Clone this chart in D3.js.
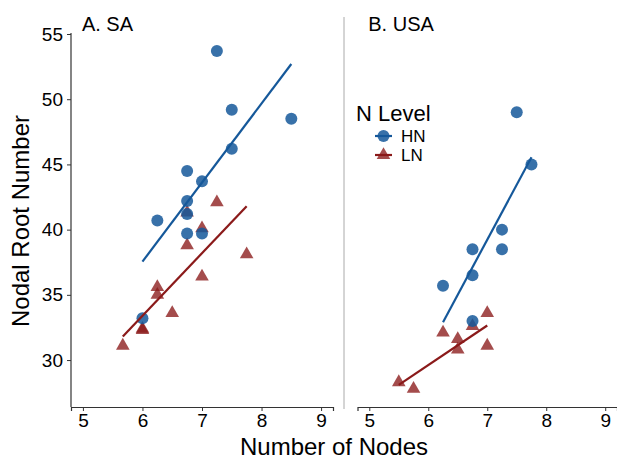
<!DOCTYPE html>
<html>
<head>
<meta charset="utf-8">
<script src="https://cdn.jsdelivr.net/npm/d3@7"></script>
<style>
  body { margin: 0; background: #fff; }
  text { font-family: "Liberation Sans", Arial, sans-serif; fill: #000; }
</style>
</head>
<body>
<div id="chart"></div>
<script>
// panels
const panels = ["A. SA", "B. USA"];

// A. SA - high N (circles)
const saHnNodes = [7.25, 7.5, 8.5, 7.5, 6.75, 7.0, 6.75, 6.25, 6.75, 6.75, 7.0, 6.0];
const saHnRoots = [53.7, 49.2, 48.5, 46.2, 44.5, 43.7, 42.2, 40.7, 41.2, 39.7, 39.7, 33.2];
// A. SA - low N (triangles)
const saLnNodes = [7.25, 7.0, 6.75, 6.75, 7.75, 7.0, 6.25, 6.25, 6.5, 6.0, 6.0, 5.67];
const saLnRoots = [42.1, 40.1, 41.3, 38.8, 38.1, 36.4, 35.6, 35.0, 33.6, 32.3, 32.4, 31.1];

// B. USA - high N
const usHnNodes = [7.5, 7.75, 7.25, 7.25, 6.75, 6.75, 6.25, 6.75];
const usHnRoots = [49.0, 45.0, 40.0, 38.5, 38.5, 36.5, 35.7, 33.0];
// B. USA - low N
const usLnNodes = [7.0, 6.75, 6.25, 6.5, 6.5, 7.0, 5.5, 5.75];
const usLnRoots = [33.6, 32.6, 32.1, 31.6, 30.8, 31.1, 28.3, 27.8];

// fitted lines, ends [x1, x2], [y1, y2]
const saHnFitX = [6.0, 8.5],  saHnFitY = [37.55, 52.7];
const saLnFitX = [5.67, 7.75], saLnFitY = [31.8, 41.8];
const usHnFitX = [6.25, 7.75], usHnFitY = [32.9, 45.55];
const usLnFitX = [5.5, 7.0],  usLnFitY = [28.1, 32.65];

const xTicks = [5, 6, 7, 8, 9];
const yTicks = [30, 35, 40, 45, 50, 55];
const levels = ["HN", "LN"];

const blue = "#15589a", red = "#8b1a1a";

const W = 617, H = 459;
const svg = d3.select("#chart").append("svg")
    .attr("width", W)
    .attr("height", H);

const y = d3.scaleLinear().domain([26.4, 55]).range([407, 34]);
const xA = d3.scaleLinear().domain([4.8, 9.2]).range([71, 333]);
const xB = d3.scaleLinear().domain([4.8, 9.2]).range([357.5, 617]);

const panelData = [
    { title: panels[0], x: xA, hnX: saHnNodes, hnY: saHnRoots, lnX: saLnNodes, lnY: saLnRoots,
      hnFit: [saHnFitX, saHnFitY], lnFit: [saLnFitX, saLnFitY] },
    { title: panels[1], x: xB, hnX: usHnNodes, hnY: usHnRoots, lnX: usLnNodes, lnY: usLnRoots,
      hnFit: [usHnFitX, usHnFitY], lnFit: [usLnFitX, usLnFitY] }
];

const tri = d3.symbol().type(d3.symbolTriangle).size(80);

panelData.forEach((p, pi) => {
    const g = svg.append("g");

    // x axis
    const xAxis = g.append("g")
        .attr("transform", "translate(0,407)")
        .call(d3.axisBottom(p.x).tickValues(xTicks).tickFormat(d3.format("d"))
            .tickSize(4).tickPadding(3));
    xAxis.select(".domain").attr("stroke", "#333").attr("stroke-width", 1.2);
    xAxis.selectAll(".tick line").attr("stroke", "#333");
    xAxis.selectAll("text").attr("font-size", 19).attr("fill", "#000");

    // y axis only on first panel
    if (pi === 0) {
        const yAxis = g.append("g")
            .attr("transform", "translate(71,0)")
            .call(d3.axisLeft(y).tickValues(yTicks).tickSize(4).tickPadding(4));
        yAxis.select(".domain").attr("stroke", "#333").attr("stroke-width", 1.2)
            .attr("d", "M0,33V407");
        yAxis.selectAll(".tick line").attr("stroke", "#333");
        yAxis.selectAll("text").attr("font-size", 19).attr("fill", "#000");
    }

    // panel title
    g.append("text")
        .attr("x", p.x(5) - 1)
        .attr("y", 31)
        .attr("font-size", 20)
        .text(p.title);

    // points - low N first, high N on top
    const ln = p.lnX.map((v, i) => [v, p.lnY[i]]);
    const hn = p.hnX.map((v, i) => [v, p.hnY[i]]);

    g.selectAll(".ln").data(ln).enter()
        .append("path")
        .attr("class", "ln")
        .attr("d", tri)
        .attr("transform", d => `translate(${p.x(d[0])},${y(d[1])})`)
        .attr("fill", red)
        .attr("fill-opacity", 0.78);

    g.selectAll(".hn").data(hn).enter()
        .append("circle")
        .attr("class", "hn")
        .attr("cx", d => p.x(d[0]))
        .attr("cy", d => y(d[1]))
        .attr("r", 6)
        .attr("fill", blue)
        .attr("fill-opacity", 0.85);

    // fit lines
    const line = d3.line().x(d => p.x(d[0])).y(d => y(d[1]));
    [[p.hnFit, blue], [p.lnFit, red]].forEach(([f, c]) => {
        g.append("path")
            .datum(f[0].map((v, i) => [v, f[1][i]]))
            .attr("d", line)
            .attr("fill", "none")
            .attr("stroke", c)
            .attr("stroke-width", 2.2);
    });
});

// divider between the panels
svg.append("line")
    .attr("x1", 344).attr("x2", 344)
    .attr("y1", 17).attr("y2", 409)
    .attr("stroke", "#aaa")
    .attr("stroke-width", 1);

// axis titles
svg.append("text")
    .attr("x", 334)
    .attr("y", 455)
    .attr("text-anchor", "middle")
    .attr("font-size", 24)
    .text("Number of Nodes");

svg.append("text")
    .attr("transform", "translate(29,221) rotate(-90)")
    .attr("text-anchor", "middle")
    .attr("font-size", 24)
    .text("Nodal Root Number");

// legend
const leg = svg.append("g");
leg.append("text")
    .attr("x", 356)
    .attr("y", 121)
    .attr("font-size", 22)
    .text("N Level");

levels.forEach((lv, i) => {
    const cy = 136 + i * 19;
    const c = i === 0 ? blue : red;
    leg.append("line")
        .attr("x1", 375).attr("x2", 392)
        .attr("y1", cy).attr("y2", cy)
        .attr("stroke", c).attr("stroke-width", 2.2);
    if (i === 0) {
        leg.append("circle")
            .attr("cx", 383.5).attr("cy", cy).attr("r", 6)
            .attr("fill", c).attr("fill-opacity", 0.85);
    } else {
        leg.append("path")
            .attr("d", tri)
            .attr("transform", `translate(383.5,${cy})`)
            .attr("fill", c).attr("fill-opacity", 0.78);
    }
    leg.append("text")
        .attr("x", 401)
        .attr("y", cy + 6)
        .attr("font-size", 17)
        .text(lv);
});
</script>
</body>
</html>
